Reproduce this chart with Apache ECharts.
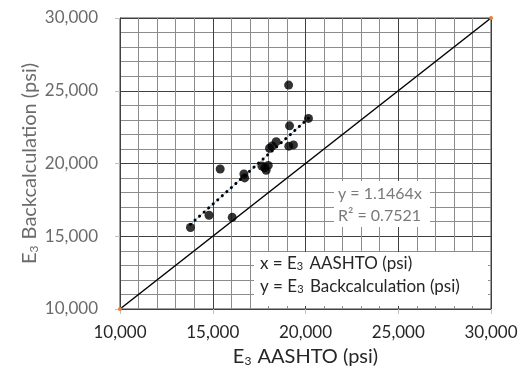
<!DOCTYPE html>
<html>
<head>
<meta charset="utf-8">
<script src="https://cdn.jsdelivr.net/npm/echarts@6/dist/echarts.min.js"></script>
<style>
    html, body { margin: 0; padding: 0; background: #fff; }
    #chart { width: 521px; height: 372px; }
</style>
</head>
<body>
<div id="chart"></div>
<script>
// measured points: E3 AASHTO (x) vs E3 backcalculation (y), psi
const aashto = [13800, 14800, 16050, 15400, 16680, 16720, 17650, 17880, 17990, 17800,
    18060, 18200, 18420, 19090, 19140, 19100, 19350, 20160];
const backcalc = [15600, 16440, 16300, 19620, 19280, 19010, 19830, 19530, 19870, 19700,
    21050, 21200, 21500, 25390, 22590, 21190, 21280, 23100];
const slope = 1.1464;
const rSquared = 0.7521;
const axisMin = 10000;
const axisMax = 30000;
const axisStep = 5000;

const font = 'Lato, "Open Sans", sans-serif';
const grey = '#6b6b6b';
const dark = '#262626';

const points = aashto.map((x, i) => [x, backcalc[i]]);
const xLo = Math.min(...aashto);
const xHi = Math.max(...aashto);
const trend = [[xLo, slope * xLo], [xHi, slope * xHi]];
const oneToOne = [[axisMin, axisMin], [axisMax, axisMax]];

const fmt = v => v.toLocaleString('en-US');

const subRich = color => ({
    n: {fontFamily: font, fontSize: 20, color: color, verticalAlign: 'bottom', lineHeight: 24},
    s: {fontFamily: font, fontSize: 12, color: color, verticalAlign: 'bottom', lineHeight: 24, padding: [0, 1, 0, 0]}
});

const valueAxis = (name, gap, labelMargin, color) => ({
    type: 'value',
    min: axisMin,
    max: axisMax,
    interval: axisStep,
    name: name,
    nameLocation: 'middle',
    nameGap: gap,
    nameMoveOverlap: false,
    nameTextStyle: {rich: subRich(color)},
    axisLine: {show: true, lineStyle: {color: '#404040', width: 1}},
    axisTick: {show: true, length: 5, lineStyle: {color: '#bfbfbf'}},
    axisLabel: {
        fontFamily: font,
        fontSize: 17,
        color: color,
        margin: labelMargin,
        formatter: fmt
    },
    splitLine: {show: true, lineStyle: {color: '#404040', width: 1}},
    minorTick: {show: false, splitNumber: 5},
    minorSplitLine: {show: true, lineStyle: {color: '#8c8c8c', width: 1}}
});

const option = {
    animation: false,
    backgroundColor: '#fff',
    grid: {
        left: 120,
        right: 30,
        top: 18,
        bottom: 60,
        show: true,
        borderColor: '#404040',
        borderWidth: 1
    },
    xAxis: valueAxis('{n|E}{s|3}{n| AASHTO (psi)}', 34, 15, dark),
    yAxis: valueAxis('{n|E}{s|3}{n| Backcalculation (psi)}', 80, 22, grey),
    series: [
        {
            type: 'line',
            data: oneToOne,
            symbol: 'circle',
            symbolSize: 4,
            itemStyle: {color: '#ED7D31'},
            lineStyle: {color: '#000', width: 1.5},
            z: 3
        },
        {
            type: 'line',
            data: trend,
            symbol: 'none',
            lineStyle: {color: '#9dc3e6', width: 1},
            z: 3
        },
        {
            type: 'line',
            data: trend,
            symbol: 'none',
            lineStyle: {color: '#000', width: 3, type: [0.1, 6], cap: 'round'},
            z: 4
        },
        {
            type: 'scatter',
            data: points,
            symbol: 'circle',
            symbolSize: 9,
            itemStyle: {color: '#000'},
            z: 5
        }
    ],
    graphic: [
        {
            type: 'rect',
            left: 334,
            top: 181,
            shape: {width: 96, height: 46},
            style: {fill: '#fff'},
            z: 10
        },
        {
            type: 'text',
            left: 338,
            top: 183,
            z: 11,
            style: {
                text: 'y = ' + slope + 'x\nR² = ' + rSquared,
                fontFamily: font,
                fontSize: 16,
                lineHeight: 22,
                fill: '#7a7a7a',
                align: 'left'
            }
        },
        {
            type: 'rect',
            left: 254,
            top: 252,
            shape: {width: 234, height: 54},
            style: {fill: '#fff'},
            z: 10
        },
        {
            type: 'text',
            left: 260,
            top: 255,
            z: 11,
            style: {
                text: '{n|x = E}{s|3}{n| AASHTO (psi)}\n{n|y = E}{s|3}{n| Backcalculation (psi)}',
                rich: {
                    n: {fontFamily: font, fontSize: 17, fill: dark, verticalAlign: 'bottom', lineHeight: 23},
                    s: {fontFamily: font, fontSize: 11, fill: dark, verticalAlign: 'bottom', lineHeight: 23, padding: [0, 2, 0, 0]}
                }
            }
        }
    ]
};

const chart = echarts.init(document.getElementById('chart'), null, {renderer: 'canvas'});
chart.setOption(option);
</script>
</body>
</html>
